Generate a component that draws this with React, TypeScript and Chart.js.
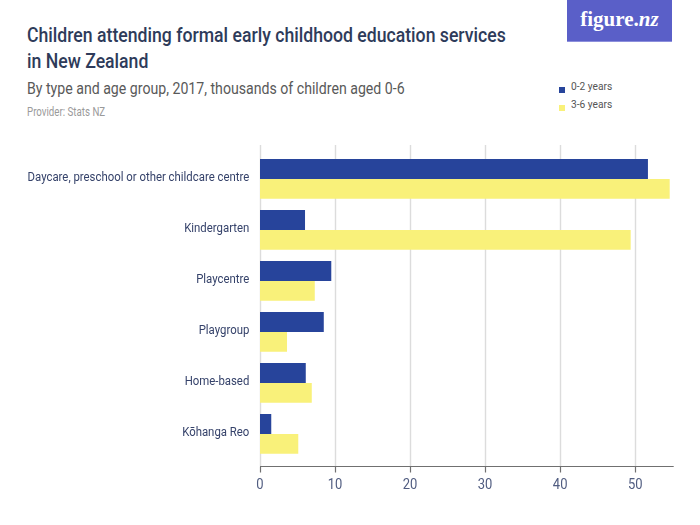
import { useEffect, useRef } from 'react';
import { Chart, registerables } from 'chart.js';

Chart.register(...registerables);

const categories = [
  'Daycare, preschool or other childcare centre',
  'Kindergarten',
  'Playcentre',
  'Playgroup',
  'Home-based',
  'Kōhanga Reo',
];
const age0to2 = [51.7, 6.0, 9.5, 8.5, 6.1, 1.5];
const age3to6 = [54.6, 49.4, 7.3, 3.6, 6.9, 5.1];
const seriesNames = ['0-2 years', '3-6 years'];
const seriesColors = ['#27449b', '#f9f17a'];
const xTicks = [0, 10, 20, 30, 40, 50];

const FONT = "Roboto, 'Liberation Sans', sans-serif";

// axis frame + labels drawn by hand so the narrow look of the original can be kept
const frameGrid = {
  id: 'frameGrid',
  beforeDatasetsDraw(chart: any) {
    const { ctx, chartArea, scales } = chart;
    const x = scales.x;
    ctx.save();
    ctx.strokeStyle = '#dcdcdc';
    ctx.lineWidth = 1.4;
    xTicks.forEach((v) => {
      const px = Math.round(x.getPixelForValue(v)) + 0.5;
      ctx.beginPath();
      ctx.moveTo(px, chartArea.top - 8.5);
      ctx.lineTo(px, chartArea.bottom + 6.5);
      ctx.stroke();
    });
    ctx.restore();
  },
  afterDatasetsDraw(chart: any) {
    const { ctx, chartArea, scales } = chart;
    const x = scales.x;
    const y = scales.y;
    const y0 = Math.round(chartArea.bottom + 6.5) + 0.5;
    ctx.save();
    ctx.strokeStyle = '#707070';
    ctx.lineWidth = 1.2;
    ctx.beginPath();
    ctx.moveTo(chartArea.left, y0);
    ctx.lineTo(chartArea.right + 1, y0);
    xTicks.forEach((v) => {
      const px = Math.round(x.getPixelForValue(v)) + 0.5;
      ctx.moveTo(px, y0);
      ctx.lineTo(px, y0 + 6);
    });
    ctx.stroke();

    // x tick labels
    ctx.fillStyle = '#505c80';
    ctx.font = `14.6px ${FONT}`;
    ctx.textAlign = 'center';
    ctx.textBaseline = 'alphabetic';
    xTicks.forEach((v) => {
      ctx.save();
      ctx.translate(x.getPixelForValue(v), y0 + 22.5);
      ctx.scale(0.89, 1);
      ctx.fillText(String(v), 0, 0);
      ctx.restore();
    });

    // category labels
    ctx.fillStyle = '#35426a';
    ctx.font = `12.5px ${FONT}`;
    ctx.textAlign = 'right';
    categories.forEach((c, i) => {
      ctx.save();
      ctx.translate(chartArea.left - 10.7, y.getPixelForValue(i) + 1.6);
      ctx.scale(0.91, 1);
      ctx.fillText(c, 0, 0);
      ctx.restore();
    });
    ctx.restore();
  },
};

function Squeezed({ scale, style, children }: { scale: number; style: any; children: any }) {
  return (
    <div style={{ position: 'absolute', whiteSpace: 'nowrap', transform: `scaleX(${scale})`, transformOrigin: 'left top', ...style }}>
      {children}
    </div>
  );
}

export default function App() {
  const chartRef = useRef<HTMLCanvasElement>(null);
  const chartInstance = useRef<Chart | null>(null);

  useEffect(() => {
    if (!chartRef.current) return;
    if (chartInstance.current) chartInstance.current.destroy();
    const ctx = chartRef.current.getContext('2d');
    if (!ctx) return;

    chartInstance.current = new Chart(ctx, {
      type: 'bar',
      data: {
        labels: categories,
        datasets: [
          { label: seriesNames[0], data: age0to2, backgroundColor: seriesColors[0] },
          { label: seriesNames[1], data: age3to6, backgroundColor: seriesColors[1] },
        ],
      },
      options: {
        indexAxis: 'y',
        animation: false,
        responsive: true,
        maintainAspectRatio: false,
        datasets: { bar: { categoryPercentage: 0.78, barPercentage: 1.0 } },
        layout: { padding: { top: 153.4, right: 27.3, left: 0, bottom: 0 } },
        plugins: {
          legend: { display: false },
          title: { display: false },
          tooltip: { enabled: false },
        },
        scales: {
          x: {
            min: 0,
            max: 55,
            ticks: { display: false },
            afterFit: (scale: any) => {
              scale.height = 65.6;
            },
            grid: { display: false, drawTicks: false },
            border: { display: false },
          },
          y: {
            ticks: { display: false },
            afterFit: (scale: any) => {
              scale.width = 260;
            },
            grid: { display: false, drawTicks: false },
            border: { display: false },
          },
        },
      },
      plugins: [frameGrid],
    });

    return () => {
      if (chartInstance.current) {
        chartInstance.current.destroy();
        chartInstance.current = null;
      }
    };
  }, []);

  return (
    <div style={{ position: 'absolute', left: 0, top: 0, width: 700, height: 525, background: '#fff', fontFamily: FONT }}>
      <Squeezed scale={0.905} style={{ left: 26.5, top: 23.2, fontSize: 19.5, lineHeight: '25.6px', fontWeight: 500, color: '#2e3b5a' }}>
        Children attending formal early childhood education services
        <br />
        in New Zealand
      </Squeezed>
      <Squeezed scale={0.883} style={{ left: 26.5, top: 78.5, fontSize: 16, lineHeight: '20px', color: '#595959' }}>
        By type and age group, 2017, thousands of children aged 0-6
      </Squeezed>
      <Squeezed scale={0.81} style={{ left: 26.5, top: 105.1, fontSize: 12, lineHeight: '15px', color: '#9a9a9a' }}>
        Provider: Stats NZ
      </Squeezed>

      <div style={{ position: 'absolute', left: 567, top: 0, width: 105, height: 41, background: '#5a5fc8', borderBottom: '1.5px solid #8c8fdc', color: '#fff', textAlign: 'center', lineHeight: '39px', fontFamily: "'Liberation Serif', serif", fontSize: 21, fontWeight: 'bold' }}>
        figure.<i>nz</i>
      </div>

      {seriesNames.map((name, i) => (
        <div key={name}>
          <div style={{ position: 'absolute', left: 559, top: 86.5 + i * 18.5, width: 6, height: 6, background: seriesColors[i] }} />
          <Squeezed scale={0.97} style={{ left: 571, top: 79.6 + i * 18.6, fontSize: 10.5, lineHeight: '14px', color: '#555555' }}>
            {name}
          </Squeezed>
        </div>
      ))}

      <div style={{ position: 'absolute', left: 0, top: 0, width: 700, height: 525 }}>
        <canvas ref={chartRef}></canvas>
      </div>
    </div>
  );
}
